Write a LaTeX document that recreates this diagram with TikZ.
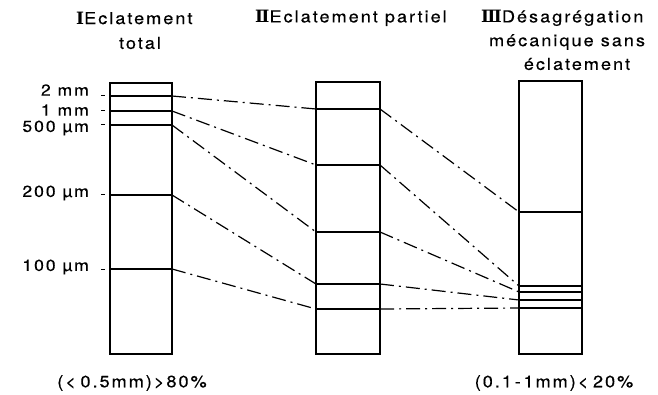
\documentclass[tikz,border=0pt]{standalone}
\usepackage{fontspec}
\setmainfont{TeX Gyre Heros}[FakeStretch=1.1, LetterSpace=12, FakeBold=0.3]
\newfontfamily\numfont{DejaVu Serif}
\newcommand\numeral[1]{{\fontsize{17}{18}\selectfont\numfont\bfseries #1}}
\usetikzlibrary{positioning}

\tikzset{
	limit/.style={line width=1.3pt},
	link/.style={line width=1.2pt, dash pattern=on 14pt off 5pt on 2pt off 5pt},
	title/.style={inner sep=0pt, font=\fontsize{16.5}{18}\selectfont},
	size/.style={inner sep=0pt, anchor=east, font=\fontsize{16}{18}\selectfont}
}

\begin{document}
\begin{tikzpicture}[x=1pt, y=-1pt]
	\useasboundingbox (0,0) rectangle (658,395);

	% Titles
	\node[title, anchor=west] (tI) at (76,18) {\numeral{Ⅰ}Eclatement};
	\node[title] (tIb) at (140,43) {total};
	\node[title, anchor=west] (tII) at (255,18) {\numeral{Ⅱ}Eclatement partiel};
	\node[title, anchor=west] (tIII) at (481,18) {\numeral{Ⅲ}Désagrégation};
	\node[title] (tIIIb) at (567,42) {mécanique sans};
	\node[title] (tIIIc) at (577,64) {éclatement};

	% Draw columns
	\foreach \name/\xl/\xr/\top in {I/110/172/83, II/316/380/82, III/519/582/81}
		\draw[limit] (\xl,\top) rectangle (\xr,354);

	% Draw limits inside the columns
	\foreach \y [count=\i] in {96, 111, 125, 195, 269}
		\draw[limit] (110,\y) coordinate (I-\i-l) -- (172,\y) coordinate (I-\i);
	\foreach \y [count=\i] in {109, 165, 232, 284, 309}
		\draw[limit] (316,\y) coordinate (II-\i-l) -- (380,\y) coordinate (II-\i);
	\foreach \y [count=\i] in {212, 286, 292, 300, 308}
		\draw[limit] (519,\y) coordinate (III-\i-l) -- (582,\y) coordinate (III-\i);

	% Size scale
	\foreach \y/\ty/\txt [count=\i] in {96/90/2 mm, 111/110/1 mm, 125/128/500 µm, 195/193/200 µm, 269/267/100 µm} {
		\node[size] (s-\i) at (89,\ty) {\txt};
		\draw[line width=1pt] (101,\y) coordinate (tick-\i) -- (105,\y);
	}

	% Dash-dot links between the columns
	\foreach \i in {1, ..., 5} {
		\draw[link] (I-\i) -- (II-\i-l);
		\draw[link] (II-\i) -- (III-\i-l);
	}

	% Fractions
	\node[title] (fI) at (132,383) {(<\;0.5mm)>80\%};
	\node[title] (fIII) at (554,383) {(0.1\,-\,1mm)<\;20\%};
\end{tikzpicture}
\end{document}
